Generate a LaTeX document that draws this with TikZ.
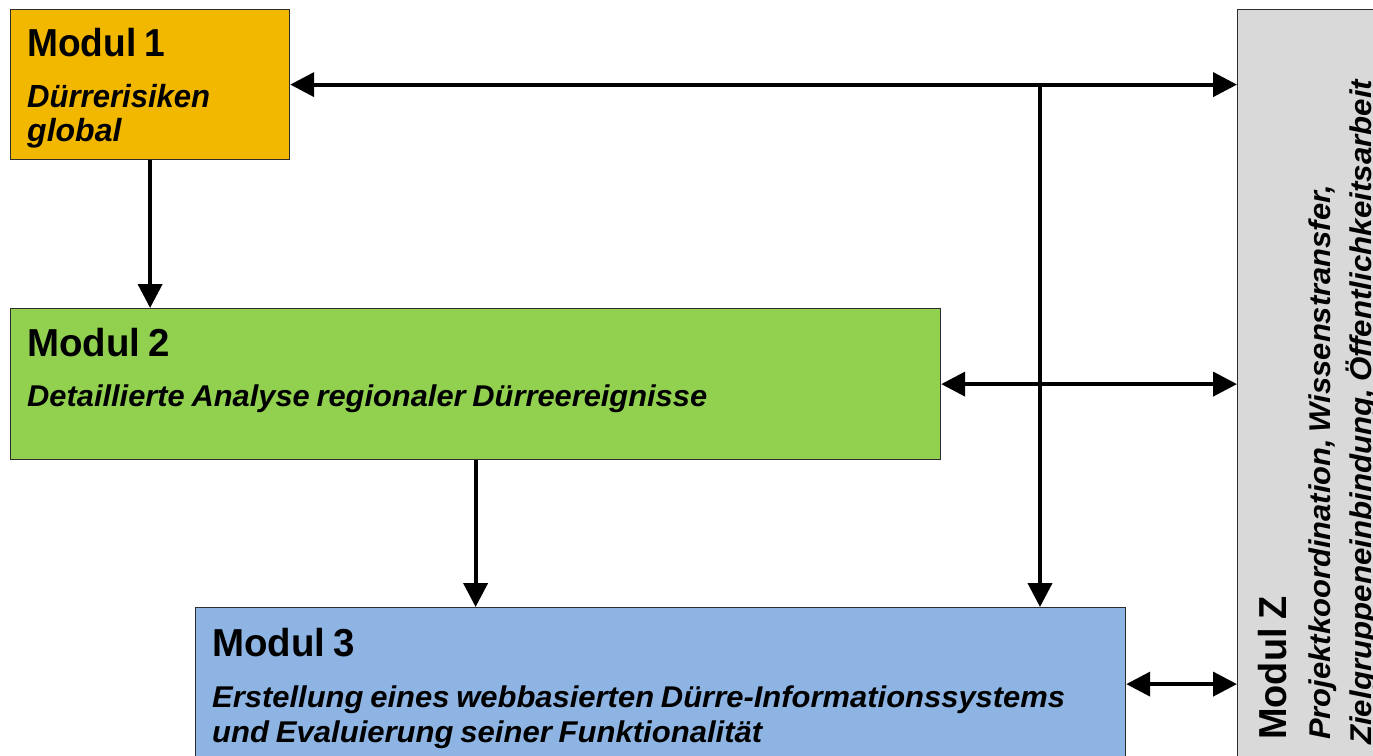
\documentclass[tikz,border=0pt]{standalone}
\usepackage{fontspec}
\setmainfont{Liberation Sans}
\usepackage{graphicx}
\usetikzlibrary{arrows.meta}
\definecolor{m1col}{RGB}{242,184,0}
\definecolor{m2col}{RGB}{146,208,80}
\definecolor{m3col}{RGB}{141,180,226}
\definecolor{mzcol}{RGB}{217,217,217}
\definecolor{boxline}{RGB}{45,45,45}
\newcommand\fitline[2]{\resizebox{#1}{\height}{\spaceskip=0.22em\relax #2}}
\begin{document}
\begin{tikzpicture}[x=1pt,y=-1pt,
  box/.style={draw=boxline, line width=1.2pt, rectangle, inner sep=0pt, anchor=north west},
  ttl/.style={anchor=base west, inner sep=0pt, font=\fontsize{39}{40}\selectfont\bfseries},
  sub/.style={anchor=base west, inner sep=0pt, font=\fontsize{30}{32}\selectfont\bfseries\itshape},
  subbig/.style={anchor=base west, inner sep=0pt, font=\fontsize{32}{34}\selectfont\bfseries\itshape},
  conn/.style={line width=4pt, -{Triangle[length=24pt,width=24pt]}},
  conn2/.style={line width=4pt, {Triangle[length=24pt,width=24pt]}-{Triangle[length=24pt,width=24pt]}}]
\useasboundingbox (0,0) rectangle (1373,755);
\clip (0,0) rectangle (1373,755);
\fill[white] (0,0) rectangle (1373,755);
% boxes
\node[box, fill=m1col, minimum width=279pt, minimum height=150pt] (m1) at (10,9) {};
\node[box, fill=m2col, minimum width=930pt, minimum height=151pt] (m2) at (10,308) {};
\node[box, fill=m3col, minimum width=930pt, minimum height=153pt] (m3) at (195,607) {};
\node[box, fill=mzcol, minimum width=200pt, minimum height=800pt] (mz) at (1237,9) {};
% texts
\node[ttl] (t1) at (27,56) {\fitline{138pt}{Modul 1}};
\node[subbig] (s1a) at (27,107) {\resizebox{183pt}{\height}{Dürrerisiken}};
\node[subbig] (s1b) at (27,141) {global};
\node[ttl] (t2) at (27,356) {\fitline{143pt}{Modul 2}};
\node[sub] (s2) at (27,406) {\fitline{680pt}{Detaillierte Analyse regionaler Dürreereignisse}};
\node[ttl] (t3) at (212,656) {\fitline{143pt}{Modul 3}};
\node[sub] (s3a) at (212,707) {\fitline{853pt}{Erstellung eines webbasierten Dürre-Informationssystems}};
\node[sub] (s3b) at (212,742) {\fitline{550pt}{und Evaluierung seiner Funktionalität}};
\node[ttl, rotate=90] (tz) at (1286,740) {\fitline{143pt}{Modul Z}};
\node[sub, rotate=90] (sza) at (1330,740) {\fitline{555pt}{Projektkoordination, Wissenstransfer,}};
\node[sub, rotate=90] (szb) at (1371,745) {\fitline{665pt}{Zielgruppeneinbindung, Öffentlichkeitsarbeit}};
% connectors
\coordinate (j) at (1040,84);
\draw[conn2] (m1.east) -- (m1.east -| mz.west);
\draw[conn2] (m2.east) -- (m2.east -| mz.west);
\draw[conn2] (m3.east) -- (m3.east -| mz.west);
\draw[conn] (j) -- (j |- m3.north);
\draw[conn] (m1.south) -- (m1.south |- m2.north);
\draw[conn] (m2.south) -- (m2.south |- m3.north);
\end{tikzpicture}
\end{document}
